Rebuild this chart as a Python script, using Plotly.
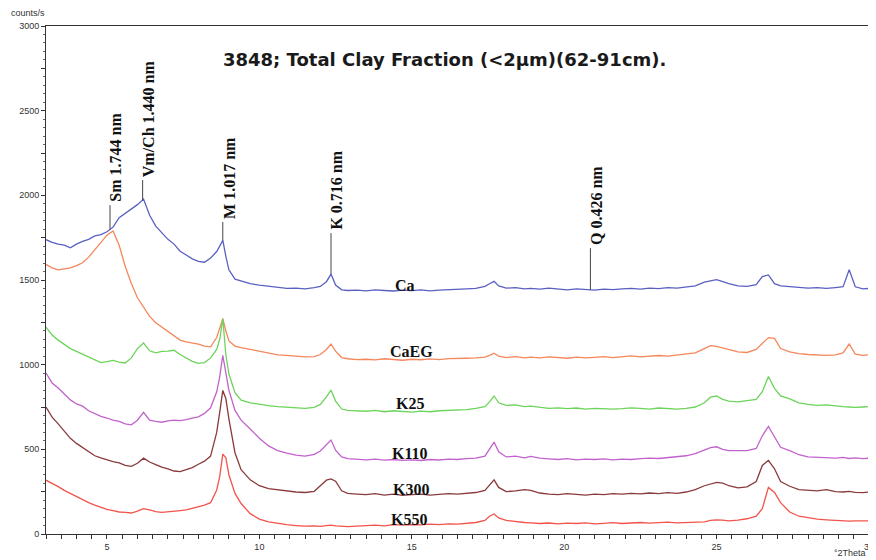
import numpy as np
import plotly.graph_objects as go

# 2-theta grid (degrees)
two_theta = [
    3.0, 3.2, 3.4, 3.6, 3.8, 4.0, 4.2, 4.4, 4.6, 4.8,
    5.0, 5.2, 5.4, 5.6, 5.8, 6.0, 6.2, 6.4, 6.6, 6.8,
    7.0, 7.2, 7.4, 7.6, 7.8, 8.0, 8.2, 8.4, 8.6, 8.7,
    8.8, 8.9, 9.0, 9.2, 9.4, 9.7, 10.0, 10.3, 10.6, 10.9,
    11.2, 11.5, 11.8, 12.0, 12.2, 12.35, 12.5, 12.7, 12.9, 13.2,
    13.5, 13.8, 14.1, 14.4, 14.7, 15.0, 15.3, 15.6, 15.9, 16.2,
    16.5, 16.8, 17.1, 17.4, 17.55, 17.7, 17.85, 18.1, 18.4, 18.7,
    18.9, 19.2, 19.5, 19.8, 20.1, 20.4, 20.7, 21.0, 21.3, 21.6,
    21.9, 22.2, 22.5, 22.8, 23.1, 23.4, 23.7, 24.0, 24.3, 24.6,
    24.8, 25.0, 25.2, 25.4, 25.7, 26.0, 26.3, 26.5, 26.7, 26.9,
    27.1, 27.4, 27.7, 28.0, 28.3, 28.6, 28.9, 29.15, 29.35, 29.55,
    29.8, 30.0,
]

ca = [
    1738, 1722, 1712, 1706, 1690, 1712, 1728, 1740, 1760, 1768,
    1785, 1812, 1868, 1893, 1915, 1945, 1978, 1882, 1818, 1778,
    1740, 1712, 1670, 1648, 1625, 1610, 1605, 1630, 1668, 1700,
    1735, 1640, 1560, 1505, 1495, 1478, 1470, 1462, 1458, 1450,
    1452, 1448, 1455, 1462, 1490, 1535, 1470, 1442, 1438, 1440,
    1436, 1442, 1438, 1435, 1440, 1437, 1442, 1436, 1440, 1444,
    1445, 1448, 1450, 1462, 1478, 1492, 1465, 1452, 1455, 1448,
    1450, 1446, 1452, 1445, 1442, 1448, 1444, 1440, 1446, 1443,
    1447, 1450, 1446, 1452, 1449, 1455, 1452, 1458, 1465, 1488,
    1495, 1502, 1490, 1478, 1465, 1462, 1472, 1520, 1530, 1478,
    1465, 1460, 1456, 1452, 1455, 1450, 1455, 1460, 1560, 1460,
    1448, 1450,
]

caeg = [
    1592, 1572, 1560, 1565, 1572, 1585, 1602, 1635, 1678, 1722,
    1765, 1790, 1705, 1580, 1480, 1395, 1338, 1285, 1248, 1222,
    1200, 1170, 1145, 1135, 1128, 1122, 1110, 1105, 1160, 1210,
    1272, 1200, 1140, 1110, 1100, 1090, 1078, 1068, 1058, 1055,
    1050, 1046, 1048, 1060, 1090, 1122, 1080, 1042, 1035, 1030,
    1032, 1028, 1035, 1030, 1026, 1032, 1029, 1034, 1030, 1036,
    1035, 1038, 1040, 1045, 1055, 1068, 1050, 1042, 1048, 1040,
    1044, 1040, 1046, 1042, 1038, 1045, 1040, 1043, 1047, 1041,
    1048, 1052, 1046, 1050, 1054, 1050, 1056, 1060, 1070, 1095,
    1112, 1108, 1100, 1088, 1076, 1072, 1090, 1125, 1160, 1155,
    1095, 1075, 1065, 1060, 1058, 1055, 1058, 1070, 1122, 1062,
    1055, 1058,
]

k25 = [
    1222, 1175, 1145, 1120, 1095, 1078, 1062, 1045, 1030, 1012,
    1018, 1025, 1015, 1010, 1040, 1095, 1128, 1082, 1070, 1078,
    1080, 1085, 1060, 1040, 1020, 1008, 1012, 1040, 1090, 1150,
    1272, 1060, 945, 835, 790, 775, 765, 758, 752, 748,
    745, 742, 748, 765, 810, 850, 785, 738, 730, 728,
    725, 730, 722, 728, 724, 720, 726, 722, 728, 730,
    732, 735, 742, 752, 780, 815, 775, 760, 762, 752,
    755, 748, 742, 745, 740, 744, 738, 742, 740, 737,
    740, 745, 742, 738, 744, 740, 738, 742, 750, 775,
    808, 815, 795, 785, 780, 788, 795, 840, 930, 860,
    815, 798, 775, 765, 760, 762, 755, 752, 750, 748,
    750, 752,
]

k110 = [
    950, 892, 862, 825, 792, 768, 755, 728, 712, 695,
    685, 672, 665, 650, 645, 672, 718, 672, 665, 660,
    668, 672, 670, 675, 685, 692, 712, 745, 840, 930,
    1055, 955, 850, 730, 672, 620, 565, 520, 492, 478,
    466, 460, 470, 490, 530, 555, 495, 455, 445, 440,
    438, 442, 436, 440, 435, 438, 434, 440, 437, 442,
    440, 445, 448, 460, 505, 543, 485, 455, 460, 450,
    458, 448, 444, 440, 445, 438, 442, 440, 444, 438,
    442, 440, 445, 448, 446, 452, 455, 462, 475, 495,
    510, 515, 500, 492, 490, 492, 505, 580, 635, 575,
    512, 492, 468, 455, 452, 450, 448, 452, 446, 450,
    445, 448,
]

k300 = [
    750, 690, 650, 610, 565, 535, 512, 490, 462, 450,
    438, 428, 420, 405, 400, 418, 448, 425, 410, 395,
    385, 372, 368, 380, 392, 412, 430, 460, 600, 720,
    848, 800, 680, 480, 380, 320, 285, 268, 260, 252,
    248, 245, 252, 285, 318, 325, 312, 255, 240, 236,
    232, 238, 230, 235, 228, 232, 236, 230, 234, 238,
    236, 240, 245, 258, 290, 320, 275, 250, 255, 262,
    258, 242, 236, 232, 238, 234, 230, 236, 232, 238,
    235, 240, 237, 242, 238, 244, 240, 248, 262, 285,
    295, 305, 300, 285, 272, 278, 310, 405, 435, 385,
    310, 282, 262, 258, 255, 262, 250, 248, 252, 246,
    244, 248,
]

k550 = [
    318, 300, 280, 258, 240, 220, 200, 185, 170, 158,
    145, 138, 130, 128, 124, 135, 150, 142, 132, 128,
    130, 132, 138, 142, 150, 158, 170, 185, 260, 340,
    472, 450, 350, 240, 180, 120, 88, 72, 62, 55,
    50, 46, 48, 45, 50, 52, 48, 45, 44, 47,
    50, 53, 48, 55, 52, 56, 54, 58, 55, 60,
    58, 62, 68, 80, 105, 118, 95, 80, 72, 68,
    66, 62, 65, 60, 64, 62, 66, 60, 63, 67,
    62, 65, 68, 64, 66, 70, 66, 68, 70, 72,
    80, 84, 82, 78, 82, 90, 105, 150, 275, 245,
    185, 130, 105, 95, 88, 84, 80, 78, 76, 78,
    75, 77,
]

series_names = ["Ca", "CaEG", "K25", "K110", "K300", "K550"]
series_values = [ca, caeg, k25, k110, k300, k550]
series_colors = ["#5a60c2", "#f5875a", "#6cd45a", "#c262cc", "#8a3a3c", "#f2544c"]
# label centre positions (2theta, counts) for the series names
label_x = [14.77, 15.0, 14.94, 14.94, 14.97, 14.9]
label_y = [1469, 1080, 773, 478, 260, 83]

# peak markers on the Ca trace
peak_x = [5.1, 6.17, 8.8, 12.35, 20.86]
peak_text = ["Sm 1.744 nm", "Vm/Ch 1.440 nm", "M 1.017 nm", "K 0.716 nm", "Q 0.426 nm"]
peak_top = [1942, 2090, 1842, 1777, 1688]

for v in series_values:
    if len(v) != len(two_theta):
        raise ValueError("length mismatch %d vs %d" % (len(v), len(two_theta)))

fig = go.Figure()
for name, vals, col in zip(series_names, series_values, series_colors):
    fig.add_trace(go.Scatter(x=two_theta, y=vals, mode="lines", name=name,
                             line=dict(color=col, width=1.3), showlegend=False))

serif = "Liberation Serif, Times New Roman, serif"
sans = "Liberation Sans, Arial, sans-serif"

annotations = []
for name, lx, ly in zip(series_names, label_x, label_y):
    annotations.append(dict(x=lx, y=ly, text="<b>%s</b>" % name, showarrow=False,
                            font=dict(family=serif, size=16, color="#111"),
                            xanchor="center", yanchor="middle"))

shapes = []
for px, txt, top in zip(peak_x, peak_text, peak_top):
    bottom = float(np.interp(px, two_theta, ca))
    shapes.append(dict(type="line", x0=px, x1=px, y0=bottom, y1=top,
                       line=dict(color="#444", width=1)))
    annotations.append(dict(x=px, y=top, text="<b>%s</b>" % txt, showarrow=False,
                            textangle=-90, xanchor="center", yanchor="bottom",
                            xshift=6, yshift=1,
                            font=dict(family=serif, size=16, color="#111")))

annotations.append(dict(x=16.07, y=2800, text="<b>3848; Total Clay Fraction (&lt;2µm)(62-91cm).</b>",
                        showarrow=False, xanchor="center", yanchor="middle",
                        font=dict(family="DejaVu Sans, Arial, sans-serif", size=18, color="#1a1a1a")))
annotations.append(dict(x=0, y=1, xref="paper", yref="paper", text="counts/s",
                        showarrow=False, xanchor="center", yanchor="bottom", xshift=-18, yshift=6,
                        font=dict(family=sans, size=9, color="#333")))
annotations.append(dict(x=1, y=0, xref="paper", yref="paper", text="°2Theta",
                        showarrow=False, xanchor="left", yanchor="top", xshift=-37, yshift=-12,
                        font=dict(family=sans, size=9, color="#333")))

x_ticks = [3 + 0.5 * i for i in range(55)]
x_text = [str(int(t)) if (t % 5 == 0) else "" for t in x_ticks]
y_ticks = [250 * i for i in range(13)]
y_text = [str(t) if t % 500 == 0 else "" for t in y_ticks]

fig.update_layout(
    width=876, height=560,
    # the page body adds an 8px offset; margins compensate so the plot box sits where the reference has it
    margin=dict(l=38, r=10, t=18, b=34),
    paper_bgcolor="white", plot_bgcolor="white",
    annotations=annotations, shapes=shapes,
    xaxis=dict(range=[3, 30], showgrid=False, zeroline=False, showline=True,
               linecolor="#333", linewidth=1, mirror=True,
               tickmode="array", tickvals=x_ticks, ticktext=x_text,
               ticks="outside", ticklen=4, tickcolor="#333",
               tickfont=dict(family=sans, size=9, color="#333")),
    yaxis=dict(range=[0, 3000], showgrid=False, zeroline=False, showline=True,
               linecolor="#333", linewidth=1, mirror=True,
               tickmode="array", tickvals=y_ticks, ticktext=y_text,
               ticks="outside", ticklen=4, tickcolor="#333",
               minor=dict(dtick=50, ticklen=2, ticks="outside", tickcolor="#666"),
               tickfont=dict(family=sans, size=9, color="#333")),
)

fig.write_html("out.html")
